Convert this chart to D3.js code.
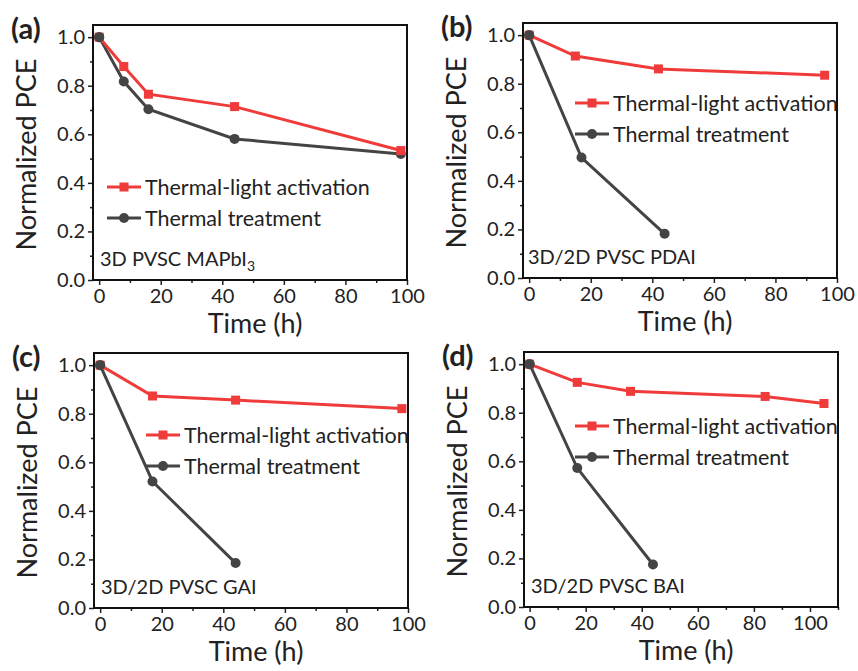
<!DOCTYPE html>
<html>
<head>
<meta charset="utf-8">
<title>Normalized PCE vs time</title>
<script src="https://cdnjs.cloudflare.com/ajax/libs/d3/7.8.5/d3.min.js"></script>
<style>
  body { margin: 0; background: #fff; }
  text { font-family: Lato, "Open Sans", sans-serif; fill: #222; }
</style>
</head>
<body>
<svg id="fig" width="858" height="671"></svg>
<script>
// values
var panelLabels = ["(a)", "(b)", "(c)", "(d)"];
var sampleNames = ["3D PVSC MAPbI", "3D/2D PVSC PDAI", "3D/2D PVSC GAI", "3D/2D PVSC BAI"];
var sampleSubs = ["3", "", "", ""];

var lightTimes = [[0, 8, 16, 44, 98], [0, 15, 42, 96], [0, 17, 44, 98], [0, 17, 36, 84, 105]];
var lightPCE = [[1.0, 0.879, 0.765, 0.714, 0.533], [1.0, 0.914, 0.861, 0.835], [1.0, 0.873, 0.856, 0.821], [1.0, 0.925, 0.888, 0.867, 0.838]];

var thermalTimes = [[0, 8, 16, 44, 98], [0, 17, 44], [0, 17, 44], [0, 17, 44]];
var thermalPCE = [[1.0, 0.817, 0.703, 0.581, 0.519], [1.0, 0.496, 0.182], [1.0, 0.521, 0.185], [1.0, 0.572, 0.175]];

var xMax = [100, 100, 100, 110];
var xTicks = [0, 20, 40, 60, 80, 100];
var yTicks = [0, 0.2, 0.4, 0.6, 0.8, 1.0];
var seriesNames = ["Thermal-light activation", "Thermal treatment"];

// panel boxes (left, top) and legend row
var boxes = [
  {x: 93, y: 25, legX: 107, legY: 187},
  {x: 523, y: 23, legX: 575, legY: 103},
  {x: 94, y: 353, legX: 146, legY: 435},
  {x: 524, y: 352, legX: 575, legY: 426}
];
var boxW = 314, boxH = 255;

var red = "#f03b3b", grey = "#444444";

var svg = d3.select("#fig");

for (var i = 0; i < 4; i++) {
  drawPanel(i);
}

function drawPanel(i) {
  var b = boxes[i];
  var g = svg.append("g").attr("transform", "translate(" + b.x + "," + b.y + ")");

  var x = d3.scaleLinear().domain([-2, xMax[i]]).range([0, boxW]);
  var y = d3.scaleLinear().domain([0, 1.05]).range([boxH, 0]);

  // minor ticks
  var xMinor = d3.range(10, xMax[i] + 1, 20);
  var yMinor = [0.1, 0.3, 0.5, 0.7, 0.9];

  g.append("g")
    .attr("transform", "translate(0," + boxH + ")")
    .call(d3.axisBottom(x).tickValues(xMinor).tickSize(3).tickFormat(""))
    .call(function(a) { a.select(".domain").remove(); a.selectAll("line").attr("stroke-width", 1.5).attr("stroke", "#222"); });
  g.append("g")
    .call(d3.axisLeft(y).tickValues(yMinor).tickSize(3).tickFormat(""))
    .call(function(a) { a.select(".domain").remove(); a.selectAll("line").attr("stroke-width", 1.5).attr("stroke", "#222"); });

  var xAxis = g.append("g")
    .attr("transform", "translate(0," + boxH + ")")
    .call(d3.axisBottom(x).tickValues(xTicks.filter(function(t) { return t <= xMax[i]; })).tickSize(5).tickPadding(4).tickFormat(d3.format("d")));
  var yAxis = g.append("g")
    .call(d3.axisLeft(y).tickValues(yTicks).tickSize(5).tickPadding(3).tickFormat(d3.format(".1f")));

  [xAxis, yAxis].forEach(function(a) {
    a.select(".domain").remove();
    a.selectAll("line").attr("stroke-width", 1.5).attr("stroke", "#222");
    a.selectAll("text").style("font-size", "20px").style("font-family", "Lato").attr("fill", "#222");
  });

  // frame
  g.append("rect")
    .attr("width", boxW).attr("height", boxH)
    .attr("fill", "none").attr("stroke", "#111").attr("stroke-width", 2);

  var line = d3.line().x(function(d) { return x(d[0]); }).y(function(d) { return y(d[1]); });

  var light = d3.zip(lightTimes[i], lightPCE[i]);
  var thermal = d3.zip(thermalTimes[i], thermalPCE[i]);

  g.append("path").datum(thermal).attr("d", line)
    .attr("fill", "none").attr("stroke", grey).attr("stroke-width", 3);
  g.selectAll("circle.th").data(thermal).enter().append("circle")
    .attr("class", "th")
    .attr("cx", function(d) { return x(d[0]); })
    .attr("cy", function(d) { return y(d[1]); })
    .attr("r", 5).attr("fill", grey);

  g.append("path").datum(light).attr("d", line)
    .attr("fill", "none").attr("stroke", red).attr("stroke-width", 3);
  g.selectAll("rect.lt").data(light).enter().append("rect")
    .attr("class", "lt")
    .attr("x", function(d) { return x(d[0]) - 4.5; })
    .attr("y", function(d) { return y(d[1]) - 4.5; })
    .attr("width", 9).attr("height", 9).attr("fill", red);

  // redraw first grey point on top like the original
  g.append("circle")
    .attr("cx", x(thermal[0][0])).attr("cy", y(thermal[0][1]))
    .attr("r", 5).attr("fill", grey);

  // legend
  var lg = svg.append("g").attr("transform", "translate(" + b.legX + "," + b.legY + ")");
  [red, grey].forEach(function(c, k) {
    var row = lg.append("g").attr("transform", "translate(0," + (k * 31) + ")");
    row.append("line").attr("x1", 0).attr("x2", 34).attr("stroke", c).attr("stroke-width", 3);
    if (k === 0) {
      row.append("rect").attr("x", 12.5).attr("y", -4.5).attr("width", 9).attr("height", 9).attr("fill", c);
    } else {
      row.append("circle").attr("cx", 17).attr("r", 5).attr("fill", c);
    }
    row.append("text").attr("x", 38).attr("y", 7.5)
      .style("font-size", "21.5px").text(seriesNames[k]);
  });

  // sample annotation
  var ann = g.append("text")
    .attr("x", i === 1 ? 5 : 7)
    .attr("y", boxH - 14)
    .style("font-size", "20px")
    .text(sampleNames[i]);
  if (sampleSubs[i]) {
    ann.append("tspan").attr("dy", 5).style("font-size", "14px").text(sampleSubs[i]);
  }

  // axis titles
  g.append("text")
    .attr("x", boxW / 2 + 5)
    .attr("y", boxH + 53)
    .attr("text-anchor", "middle")
    .style("font-size", "27px")
    .text("Time (h)");
  g.append("text")
    .attr("transform", "translate(-57," + (boxH / 2 + 2) + ") rotate(-90)")
    .attr("text-anchor", "middle")
    .style("font-size", "27px")
    .text("Normalized PCE");

  // panel letter
  g.append("text")
    .attr("x", -82)
    .attr("y", 14)
    .style("font-size", "29px")
    .style("font-weight", "bold")
    .attr("fill", "#111")
    .text(panelLabels[i]);
}
</script>
</body>
</html>
